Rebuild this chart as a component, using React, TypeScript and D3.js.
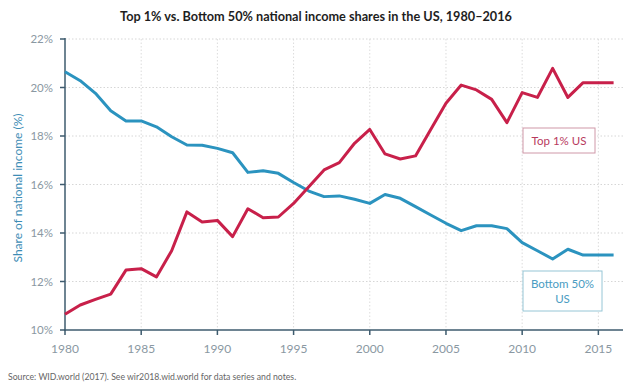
import React from "react";
import * as d3 from "d3";

const years: number[] = d3.range(1980, 2017);
const top1: number[] = [
  10.65, 11.03, 11.26, 11.48, 12.47, 12.53, 12.19, 13.27, 14.87, 14.45,
  14.52, 13.85, 15.0, 14.63, 14.66, 15.22, 15.91, 16.6, 16.9, 17.7,
  18.27, 17.26, 17.05, 17.18, 18.27, 19.35, 20.1, 19.9, 19.51, 18.55,
  19.79, 19.59, 20.79, 19.59, 20.2, 20.2, 20.2,
];
const bottom50: number[] = [
  20.65, 20.28, 19.76, 19.04, 18.62, 18.62, 18.38, 17.97, 17.63, 17.62,
  17.49, 17.31, 16.5, 16.57, 16.46, 16.08, 15.73, 15.5, 15.53, 15.39,
  15.22, 15.59, 15.43, 15.09, 14.74, 14.4, 14.1, 14.3, 14.3, 14.18,
  13.6, 13.27, 12.93, 13.33, 13.09, 13.09, 13.09,
];
const xTicks: number[] = [1980, 1985, 1990, 1995, 2000, 2005, 2010, 2015];
const yTicks: number[] = [10, 12, 14, 16, 18, 20, 22];
const title = "Top 1% vs. Bottom 50% national income shares in the US, 1980–2016";
const yTitle = "Share of national income (%)";
const source = "Source:  WID.world (2017). See wir2018.wid.world for data series and notes.";

const RED = "#c8204a";
const BLUE = "#2b93bf";
const AXIS = "#3e5b6e";
const FONT = "Lato, 'Open Sans', sans-serif";

export default function App() {
  const W = 633, H = 387;
  const x = d3.scaleLinear().domain([1980, 2016]).range([65, 613.6]);
  const y = d3.scaleLinear().domain([10, 22]).range([330, 39]);
  const line = d3
    .line<number>()
    .x((_, i) => x(years[i]))
    .y((d) => y(d));

  return (
    <svg
      width={W}
      height={H}
      style={{ position: "absolute", left: 0, top: 0, background: "#fff" }}
      fontFamily={FONT}
    >
      <rect width={W} height={H} fill="#fff" />
      <text x={316} y={21} textAnchor="middle" fontSize={12.7} fontWeight={700} fill="#1e1e1e">
        {title}
      </text>
      {/* grid */}
      {yTicks.filter((t) => t > 10).map((t) => (
        <line key={"gy" + t} x1={65} x2={623} y1={y(t)} y2={y(t)} stroke="#d6d6d6" strokeWidth={1} strokeDasharray="1.5,2" />
      ))}
      {xTicks.filter((t) => t > 1980).map((t) => (
        <line key={"gx" + t} x1={x(t)} x2={x(t)} y1={39} y2={330} stroke="#dcdcdc" strokeWidth={1} strokeDasharray="1.5,2" />
      ))}
      {/* axes */}
      <line x1={65} x2={65} y1={38} y2={331} stroke={AXIS} strokeWidth={1.5} />
      <line x1={64} x2={623} y1={330} y2={330} stroke={AXIS} strokeWidth={1.5} />
      {yTicks.map((t) => (
        <g key={"yt" + t}>
          <line x1={60} x2={65} y1={y(t)} y2={y(t)} stroke={AXIS} strokeWidth={1.5} />
          <text x={53} y={y(t) + 4} textAnchor="end" fontSize={11.5} fill="#8a98a2">
            {t}%
          </text>
        </g>
      ))}
      {xTicks.map((t) => (
        <g key={"xt" + t}>
          <line x1={x(t)} x2={x(t)} y1={330} y2={335} stroke={AXIS} strokeWidth={1.5} />
          <text x={x(t)} y={353} textAnchor="middle" fontSize={12} fill="#8a98a2">
            {t}
          </text>
        </g>
      ))}
      <text
        transform={`translate(22,188) rotate(-90)`}
        textAnchor="middle"
        fontSize={12}
        fill="#3d8db5"
      >
        {yTitle}
      </text>
      {/* lines */}
      <path d={line(bottom50) || ""} fill="none" stroke={BLUE} strokeWidth={3} strokeLinejoin="round" />
      <path d={line(top1) || ""} fill="none" stroke={RED} strokeWidth={3} strokeLinejoin="round" />
      {/* labels */}
      <rect x={523} y={128} width={72} height={25} fill="#fff" stroke="#cf98a8" strokeWidth={1} />
      <text x={559} y={145} textAnchor="middle" fontSize={11.5} fill="#b83a5e">
        Top 1% US
      </text>
      <rect x={523} y={271} width={79} height={40} fill="#fff" stroke="#96c6d6" strokeWidth={1} />
      <text x={562.5} y={288} textAnchor="middle" fontSize={11.5} fill="#4a9cc2">
        Bottom 50%
      </text>
      <text x={562.5} y={303} textAnchor="middle" fontSize={11.5} fill="#4a9cc2">
        US
      </text>
      <text x={8} y={380} fontSize={8.7} fill="#666">
        {source}
      </text>
    </svg>
  );
}
